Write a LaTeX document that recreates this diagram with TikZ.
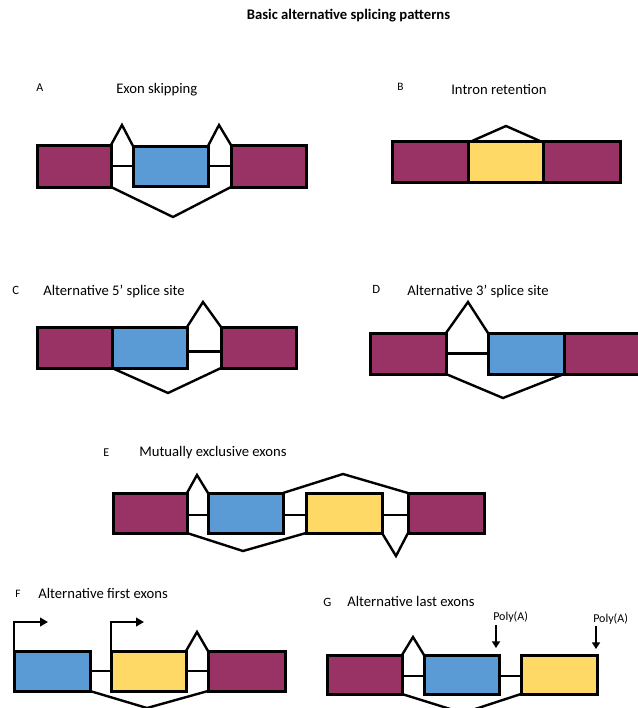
\documentclass[tikz,border=0pt]{standalone}
\usepackage{fontspec}
\setmainfont{Carlito}
\usetikzlibrary{arrows.meta,calc}
\definecolor{plum}{HTML}{993366}
\definecolor{exblue}{HTML}{5B9BD5}
\definecolor{exyellow}{HTML}{FFD966}
\newcommand\exonbox[6]{\node[exon,fill=#6,minimum width={(#4-#2)*0.75pt},minimum height={(#5-#3)*0.75pt}] (#1) at ({(#2+#4)/2},{(#3+#5)/2}) {};}
\begin{document}
\begin{tikzpicture}[x=0.75pt,y=-0.75pt,
  exon/.style={draw=black,line width=2.25pt,inner sep=0pt,outer sep=0pt,rectangle},
  splice/.style={draw=black,line width=1.8pt,line join=miter},
  intron/.style={draw=black,line width=1.6pt},
  lab/.style={font=\fontsize{11}{13}\selectfont,anchor=base west,inner sep=0pt},
  letter/.style={font=\fontsize{9}{11}\selectfont,anchor=base west,inner sep=0pt},
  poly/.style={font=\fontsize{9}{11}\selectfont,anchor=base west,inner sep=0pt},
  tss/.style={draw=black,line width=1.9pt,-{Triangle[length=6pt,width=6.5pt]}},
  pa/.style={draw=black,line width=1.9pt,-{Triangle[length=5pt,width=6pt]}}]
\useasboundingbox (0,0) rectangle (638,708);
\clip (0,0) rectangle (638,708);

\node[font=\bfseries\fontsize{11}{13}\selectfont,anchor=base,inner sep=0pt] (title) at (348.5,19.5) {Basic alternative splicing patterns};

% ---------- A
\node[letter] (lA) at (36,91.5) {A};
\node[lab] (tA) at (116,93.5) {Exon skipping};
\exonbox{a1}{37}{145}{111}{187}{plum}
\exonbox{a2}{133}{146}{208}{186}{exblue}
\exonbox{a3}{231}{145}{306}{187}{plum}
\coordinate (pA1) at (122,125);
\coordinate (pA2) at (219,125);
\coordinate (pA3) at (173,217);
\draw[intron] (a1.east) -- (a2.west);
\draw[intron] (a2.east) -- (a3.west);
\draw[splice] (a1.north east) -- (pA1) -- (a2.north west);
\draw[splice] (a2.north east) -- (pA2) -- (a3.north west);
\draw[splice] (a1.south east) -- (pA3) -- (a3.south west);

% ---------- B
\node[letter,font=\fontsize{8.5}{10}\selectfont] (lB) at (397,90.5) {B};
\node[lab] (tB) at (451,94) {Intron retention};
\exonbox{b1}{392}{141}{468}{182}{plum}
\exonbox{b2}{468}{141}{543}{182}{exyellow}
\exonbox{b3}{543}{141}{620}{182}{plum}
\coordinate (pB1) at (506,126);
\draw[splice] ($(b2.north west)+(4,0)$) -- (pB1) -- ($(b2.north east)+(-3,0)$);

% ---------- C
\node[letter,font=\fontsize{9.5}{11}\selectfont] (lC) at (12,294) {C};
\node[lab] (tC) at (43,295) {Alternative 5’ splice site};
\exonbox{c1}{37}{327}{112}{368}{plum}
\exonbox{c2}{112}{327}{187}{368}{exblue}
\exonbox{c3}{221}{327}{296}{368}{plum}
\coordinate (pC1) at (203,302);
\coordinate (pC2) at (168,393);
\draw[intron] ([yshift=-3pt]c2.east) -- ([yshift=-3pt]c3.west);
\draw[splice] (c2.north east) -- (pC1) -- (c3.north west);
\draw[splice] (c2.south west) -- (pC2) -- (c3.south west);

% ---------- D
\node[letter,font=\fontsize{9.5}{11}\selectfont] (lD) at (372,293.5) {D};
\node[lab] (tD) at (407,295) {Alternative 3’ splice site};
\exonbox{d1}{370}{333}{446}{374}{plum}
\exonbox{d2}{488}{333}{564}{374}{exblue}
\exonbox{d3}{564}{333}{650}{374}{plum}
\coordinate (pD1) at (468,302);
\coordinate (pD2) at (503,398);
\draw[intron] (d1.east) -- (d2.west);
\draw[splice] (d1.north east) -- (pD1) -- (d2.north west);
\draw[splice] (d1.south east) -- (pD2) -- (d2.south east);

% ---------- E
\node[letter] (lE) at (103,456) {E};
\node[lab] (tE) at (139,456.5) {Mutually exclusive exons};
\exonbox{e1}{113}{493}{187}{533}{plum}
\exonbox{e2}{208}{493}{283}{533}{exblue}
\exonbox{e3}{306}{493}{382}{533}{exyellow}
\exonbox{e4}{408}{493}{484}{533}{plum}
\coordinate (pE1) at (197,475);
\coordinate (pE2) at (343,474);
\coordinate (pE3) at (243,551);
\coordinate (pE4) at (396,556);
\draw[intron] ([yshift=-1.5pt]e1.east) -- ([yshift=-1.5pt]e2.west);
\draw[intron] ([yshift=-1.5pt]e2.east) -- ([yshift=-1.5pt]e3.west);
\draw[intron] ([yshift=-1.5pt]e3.east) -- ([yshift=-1.5pt]e4.west);
\draw[splice] (e1.north east) -- (pE1) -- (e2.north west);
\draw[splice] (e2.north east) -- (pE2) -- (e4.north west);
\draw[splice] (e1.south east) -- (pE3) -- (e3.south west);
\draw[splice] (e3.south east) -- (pE4) -- (e4.south west);

% ---------- F
\node[letter,font=\fontsize{8.5}{10}\selectfont] (lF) at (15,597) {F};
\node[lab] (tF) at (38,598) {Alternative first exons};
\exonbox{f1}{14}{651}{90}{691}{exblue}
\exonbox{f2}{111}{651}{186}{691}{exyellow}
\exonbox{f3}{208}{651}{285}{691}{plum}
\coordinate (pF1) at (197,632);
\coordinate (pF2) at (147,708);
\coordinate (kF1) at (14,622);
\coordinate (eF1) at (48,622);
\coordinate (kF2) at (111,622);
\coordinate (eF2) at (144,622);
\draw[intron] (f1.east) -- (f2.west);
\draw[intron] (f2.east) -- (f3.west);
\draw[splice] (f2.north east) -- (pF1) -- (f3.north west);
\draw[splice] (f1.south east) -- (pF2) -- (f3.south west);
\draw[tss] (f1.north west) -- (kF1) -- (eF1);
\draw[tss] (f2.north west) -- (kF2) -- (eF2);

% ---------- G
\node[letter,font=\fontsize{9.5}{11}\selectfont] (lG) at (323,606) {G};
\node[lab] (tG) at (347,606.5) {Alternative last exons};
\exonbox{g1}{327}{655}{402}{694}{plum}
\exonbox{g2}{424}{655}{499}{694}{exblue}
\exonbox{g3}{521}{655}{597}{694}{exyellow}
\coordinate (pG1) at (413,637);
\coordinate (pG2) at (463,713);
\draw[intron] ([yshift=-1.2pt]g1.east) -- ([yshift=-1.2pt]g2.west);
\draw[intron] ([yshift=-1.2pt]g2.east) -- ([yshift=-1.2pt]g3.west);
\draw[splice] (g1.north east) -- (pG1) -- (g2.north west);
\draw[splice] (g1.south east) -- (pG2) -- (g3.south west);
\node[poly] (pa1) at (493,620) {Poly(A)};
\node[poly] (pa2) at (593,622.5) {Poly(A)};
\coordinate (sA1) at (496,625);
\coordinate (tA1) at (496,648);
\coordinate (sA2) at (596,626);
\coordinate (tA2) at (596,649);
\draw[pa] (sA1) -- (tA1);
\draw[pa] (sA2) -- (tA2);
\end{tikzpicture}
\end{document}
